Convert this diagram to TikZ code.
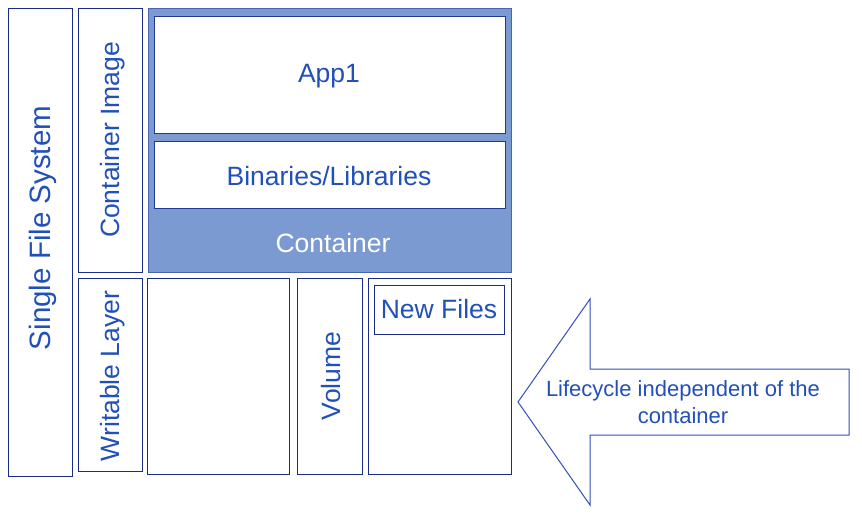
\documentclass[tikz,border=0pt]{standalone}
\usepackage{fontspec}
\setmainfont{Liberation Sans}
\definecolor{navy}{HTML}{1B2C88}
\definecolor{txtblue}{HTML}{2150B8}
\definecolor{contfill}{HTML}{7B9AD2}
\definecolor{contline}{HTML}{4A64B0}
\definecolor{arrowline}{HTML}{2F4FC0}
\begin{document}
\begin{tikzpicture}[x=1pt,y=-1pt,
  box/.style={draw=navy,line width=1.3pt,fill=white,inner sep=0pt,anchor=north west},
  lbl/.style={text=txtblue,font=\fontsize{26.5}{30}\selectfont,inner sep=0pt},
  vlbl/.style={lbl,rotate=90}]
\useasboundingbox (0,0) rectangle (862,514);
% left columns
\node[box,minimum width=64pt,minimum height=468pt] (sfs) at (8,8) {};
\node[vlbl,font=\fontsize{29.5}{32}\selectfont] (sfst) at (43,228) {Single File System};
\node[box,minimum width=64pt,minimum height=264pt] (ci) at (78,8) {};
\node[vlbl] (cit) at (113,140) {Container Image};
\node[box,minimum width=64pt,minimum height=193pt] (wl) at (78,278) {};
\node[vlbl] (wlt) at (113,376) {Writable Layer};
% container
\node[box,draw=contline,fill=contfill,minimum width=363pt,minimum height=264pt] (cont) at (148,8) {};
\node[box,draw=navy!80!contline,minimum width=351pt,minimum height=117pt] (app) at (154,16) {};
\node[lbl] (appt) at (329,76) {App1};
\node[box,draw=navy!80!contline,minimum width=351pt,minimum height=67pt] (bin) at (154,141) {};
\node[lbl] (bint) at (329,176) {Binaries/Libraries};
\node[lbl,text=white] (contt) at (333,243) {Container};
% lower boxes
\node[box,minimum width=142pt,minimum height=196pt] (empty) at (147,278) {};
\node[box,minimum width=65pt,minimum height=196pt] (vol) at (297,278) {};
\node[vlbl] (volt) at (331,376) {Volume};
\node[box,minimum width=143pt,minimum height=196pt] (rb) at (368,278) {};
\node[box,minimum width=130pt,minimum height=49pt] (nf) at (374,285) {};
\node[lbl] (nft) at (439,309) {New Files};
% arrow
\draw[arrowline,line width=1pt,fill=white,line join=miter]
  (518,402) -- (590,299) -- (590,369) -- (849,369) -- (849,435) -- (590,435) -- (590,505) -- cycle;
\node[lbl,font=\fontsize{22}{27}\selectfont,align=center] (life) at (683,402) {Lifecycle independent of the\\container};
\end{tikzpicture}
\end{document}
